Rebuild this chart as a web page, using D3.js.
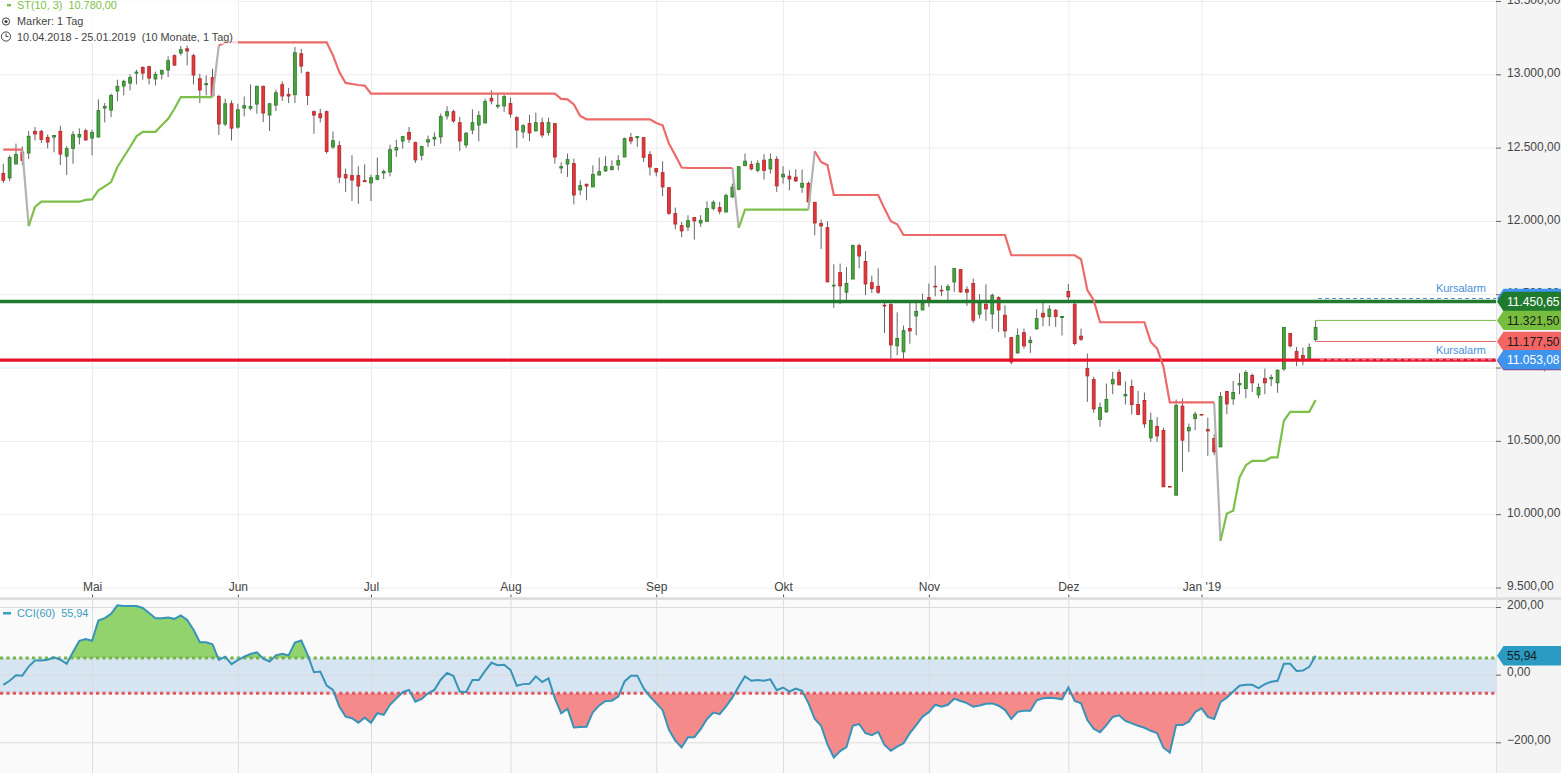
<!DOCTYPE html>
<html>
<head>
<meta charset="utf-8">
<script src="https://cdn.jsdelivr.net/npm/d3@7"></script>
<style>
  html, body { margin: 0; padding: 0; background: #fff; overflow: hidden; }
  svg { display: block; font-family: "Liberation Sans", Arial, sans-serif; }
</style>
</head>
<body>
<div class="container"></div>
<script>
// daily candles, 208 trading days
var opens = [
  12324,12293,12388,12470,12463,12611,12611,12570,12572,12611,
  12442,12495,12572,12615,12565,12572,12770,12756,12886,12920,
  12940,13008,13047,13052,12968,13002,13029,13127,13145,13174,
  13127,12970,12929,12977,12849,12661,12799,12640,12770,12768,
  12797,12918,12722,12790,12929,12863,12861,13140,13013,12745,
  12731,12745,12504,12513,12316,12309,12309,12275,12259,12284,
  12327,12334,12484,12545,12604,12534,12448,12538,12559,12573,
  12716,12745,12670,12518,12620,12654,12668,12836,12782,12784,
  12800,12704,12607,12664,12614,12670,12604,12664,12361,12388,
  12391,12211,12250,12232,12313,12341,12350,12382,12436,12568,
  12568,12568,12452,12357,12329,12227,12050,11968,11959,12023,
  11986,11998,12086,12091,12061,12164,12216,12377,12384,12345,
  12414,12355,12420,12300,12305,12298,12230,12255,12127,11982,
  11954,11557,11648,11514,11604,11832,11723,11579,11554,11425,
  11429,11148,11107,11266,11352,11393,11477,11554,11527,11529,
  11584,11668,11532,11573,11364,11432,11366,11477,11357,11204,
  11100,11238,11170,11264,11370,11348,11391,11341,11519,11432,
  11214,10993,10918,10646,10698,10889,10966,10807,10871,10748,
  10775,10521,10598,10571,10189,10130,10737,10568,10652,10680,
  10577,10516,10459,10837,10787,10882,10857,10946,10814,10925,
  10923,10896,10991,11232,11109,11082,11055,11191
];
var closes = [
  12277,12433,12454,12413,12577,12593,12556,12538,12583,12456,
  12493,12588,12590,12552,12604,12752,12781,12856,12918,12952,
  12979,13015,13008,12974,13000,13027,13093,13063,13168,13159,
  12995,12893,12936,12854,12661,12799,12633,12758,12786,12781,
  12918,12736,12799,12874,12852,12852,13147,13056,12856,12722,
  12704,12474,12547,12299,12293,12279,12238,12268,12295,12309,
  12338,12486,12500,12575,12557,12416,12507,12554,12570,12711,
  12745,12682,12545,12598,12670,12718,12814,12818,12789,12848,
  12729,12620,12650,12600,12670,12586,12670,12436,12370,12418,
  12177,12241,12238,12316,12336,12370,12370,12411,12561,12545,
  12575,12434,12368,12334,12232,12052,11979,11932,12002,12000,
  12004,12084,12127,12066,12173,12230,12370,12407,12355,12391,
  12345,12420,12239,12318,12286,12273,12257,12130,11986,11966,
  11584,11561,11557,11573,11832,11761,11570,11539,11514,11420,
  11154,11198,11252,11250,11382,11436,11459,11550,11523,11552,
  11675,11516,11514,11323,11441,11400,11493,11393,11250,11038,
  11218,11148,11186,11334,11345,11398,11348,11348,11482,11164,
  11193,10943,10718,10728,10782,10918,10882,10816,10748,10680,
  10616,10639,10534,10187,10185,10741,10505,10591,10682,10677,
  10568,10425,10802,10752,10830,10891,10966,10896,10864,10896,
  10932,10982,11273,11148,11050,11064,11137,11273
];
var highs = [
  12390,12447,12527,12508,12613,12640,12622,12590,12586,12649,
  12511,12613,12631,12629,12622,12829,12804,12868,12963,12963,
  13000,13031,13054,13058,13018,13031,13122,13136,13193,13197,
  13140,13004,12993,13038,12861,12833,12822,12799,12849,12931,
  12922,12922,12804,12895,12952,12908,13186,13174,13020,12754,
  12765,12754,12611,12545,12357,12448,12373,12386,12316,12432,
  12350,12520,12554,12577,12641,12541,12513,12582,12604,12732,
  12782,12759,12709,12607,12761,12750,12834,12891,12864,12859,
  12841,12714,12659,12723,12739,12704,12704,12664,12400,12459,
  12425,12277,12254,12379,12432,12441,12413,12448,12568,12600,
  12577,12568,12475,12357,12407,12227,12091,11993,12039,12027,
  12039,12134,12141,12130,12186,12255,12370,12459,12409,12414,
  12455,12459,12441,12373,12345,12352,12350,12270,12130,12009,
  11998,11704,11709,11686,11839,11845,11793,11627,11677,11448,
  11448,11377,11286,11443,11448,11504,11573,11695,11561,11568,
  11675,11670,11554,11607,11500,11568,11504,11486,11425,11209,
  11266,11266,11214,11398,11441,11425,11398,11348,11569,11441,
  11266,11096,10937,10762,10891,10971,10987,10905,10918,10841,
  10830,10693,10662,10591,10189,10782,10789,10618,10698,10680,
  10659,10546,10834,10841,10909,10962,10982,10959,10891,10993,
  10952,10987,11273,11232,11141,11137,11164,11321.5
];
var lows = [
  12258,12272,12388,12379,12422,12549,12531,12495,12468,12381,
  12313,12390,12522,12549,12447,12572,12672,12708,12817,12856,
  12890,12931,12963,12931,12924,12965,12981,13056,13129,13061,
  12931,12804,12856,12845,12586,12647,12549,12629,12713,12754,
  12731,12674,12613,12749,12818,12804,12804,13008,12790,12595,
  12672,12458,12492,12258,12198,12136,12116,12266,12136,12277,
  12286,12304,12436,12493,12532,12395,12413,12504,12511,12527,
  12691,12668,12477,12498,12591,12543,12668,12795,12766,12743,
  12704,12498,12563,12543,12611,12568,12582,12391,12323,12300,
  12113,12175,12141,12232,12311,12334,12345,12345,12436,12523,
  12504,12402,12311,12304,12168,12041,11943,11889,11932,11873,
  11959,11993,12073,12045,12059,12157,12209,12373,12345,12332,
  12282,12323,12198,12255,12209,12266,12191,12118,11902,11809,
  11584,11407,11432,11459,11602,11677,11493,11509,11502,11236,
  11061,11084,11061,11163,11220,11391,11414,11486,11486,11459,
  11516,11509,11420,11304,11334,11318,11264,11243,11204,11023,
  11095,11129,11100,11259,11282,11282,11277,11218,11459,11150,
  11182,10766,10691,10596,10691,10818,10880,10748,10680,10675,
  10589,10493,10493,10187,10185,10125,10289,10425,10573,10677,
  10398,10402,10459,10682,10746,10818,10791,10834,10791,10818,
  10873,10828,10978,11137,11009,11016,11050,11177.5
];

// supertrend, upper (red) and lower (green) stretches
var _ = null;
var stUpper = [
  12486,12486,12486,12486,_,_,_,_,_,_,
  _,_,_,_,_,_,_,_,_,_,
  _,_,_,_,_,_,_,_,_,_,
  _,_,_,_,13197,13218,13218,13218,13218,13218,
  13218,13218,13218,13218,13218,13218,13218,13218,13218,13218,
  13218,13218,13129,13015,12941,12934,12927,12923,12868,12868,
  12868,12868,12868,12868,12868,12868,12868,12868,12868,12868,
  12868,12868,12868,12868,12868,12868,12868,12868,12868,12868,
  12868,12868,12868,12868,12868,12868,12868,12868,12832,12829,
  12795,12716,12693,12693,12693,12693,12693,12693,12693,12693,
  12693,12693,12693,12668,12652,12527,12448,12364,12361,12361,
  12361,12361,12361,12361,12361,12361,_,_,_,_,
  _,_,_,_,_,_,_,_,12475,12402,
  12382,12177,12177,12177,12177,12177,12177,12177,12177,12084,
  11998,11977,11904,11904,11904,11904,11904,11904,11904,11904,
  11904,11904,11904,11904,11904,11904,11904,11904,11904,11766,
  11766,11766,11766,11766,11766,11766,11766,11766,11766,11766,
  11739,11528,11459,11309,11309,11309,11309,11309,11309,11309,
  11309,11175,11130,11005,10762,10762,10762,10762,10762,10762,
  10762,10762,_,_,_,_,_,_,_,_,
  _,_,_,_,_,_,_,_
];
var stLower = [
  _,_,_,_,11965,12095,12131,12131,12131,12131,
  12131,12131,12131,12143,12147,12208,12236,12265,12368,12436,
  12504,12577,12608,12608,12608,12652,12697,12765,12845,12845,
  12845,12845,12845,12845,_,_,_,_,_,_,
  _,_,_,_,_,_,_,_,_,_,
  _,_,_,_,_,_,_,_,_,_,
  _,_,_,_,_,_,_,_,_,_,
  _,_,_,_,_,_,_,_,_,_,
  _,_,_,_,_,_,_,_,_,_,
  _,_,_,_,_,_,_,_,_,_,
  _,_,_,_,_,_,_,_,_,_,
  _,_,_,_,_,_,11952,12077,12077,12077,
  12077,12077,12077,12077,12077,12077,12077,12077,_,_,
  _,_,_,_,_,_,_,_,_,_,
  _,_,_,_,_,_,_,_,_,_,
  _,_,_,_,_,_,_,_,_,_,
  _,_,_,_,_,_,_,_,_,_,
  _,_,_,_,_,_,_,_,_,_,
  _,_,_,_,_,_,_,_,_,_,
  _,_,9818,10005,10023,10250,10334,10364,10364,10364,
  10387,10387,10637,10698,10698,10698,10698,10778
];

var cciValues = [
  -30,-18,-2,-3,24,42,42,44,51,44,
  32,67,100,105,100,160,167,180,205,203,
  203,203,197,182,167,167,169,165,175,162,
  133,96,96,90,44,53,31,43,53,61,
  66,47,39,57,62,57,95,101,59,7,
  9,-32,-45,-94,-124,-129,-142,-127,-142,-114,
  -119,-89,-70,-52,-45,-80,-72,-55,-45,-15,
  5,-4,-50,-52,-16,-16,11,35,28,29,
  14,-33,-28,-27,-5,-22,-11,-70,-114,-101,
  -156,-155,-154,-111,-91,-78,-77,-65,-20,-3,
  -3,-40,-65,-84,-105,-163,-195,-215,-185,-185,
  -161,-131,-112,-117,-94,-68,-35,-5,-18,-16,
  -18,-14,-46,-38,-50,-41,-48,-84,-131,-151,
  -206,-245,-226,-214,-151,-146,-173,-179,-169,-208,
  -225,-213,-203,-173,-149,-124,-111,-89,-95,-89,
  -71,-78,-84,-95,-91,-86,-85,-92,-104,-131,
  -110,-107,-107,-76,-70,-68,-70,-73,-38,-78,
  -85,-134,-160,-170,-149,-125,-120,-137,-144,-151,
  -157,-166,-173,-216,-230,-149,-149,-139,-111,-99,
  -125,-131,-81,-68,-50,-33,-30,-30,-40,-28,
  -21,-18,32,32,11,12,23,56
];
var cciUpper = 49;
var cciLower = -55;

var monthLabels = ["Mai","Jun","Jul","Aug","Sep","Okt","Nov","Dez","Jan '19"];
var monthBars = [14,37,58,80,103,123,146,168,189];
var priceTicks = [13500,13000,12500,12000,11500,11000,10500,10000,9500];
var cciTicks = [200,0,-200];

// right hand price tags, some sit half hidden behind the next one
var tagValues = [11471,11450.65,11321.5,11177.5,11047,11053.08];
var tagColors = ["#3f95ee","#1f7a2e","#77bd3e","#f46464","#9c2c63","#3f95ee"];
var tagText = ["","#fff","#1a1a1a","#1a1a1a","","#fff"];

var W = 1561, H = 773, plotR = 1496;
var numFmt = d3.formatLocale({decimal: ",", thousands: ".", grouping: [3], currency: ["", ""]}).format(",.2f");

var svg = d3.select(".container").append("svg").attr("width", W).attr("height", H);

var x = d3.scaleLinear().domain([0, opens.length - 1]).range([3.3, 1315.6]);
var y = d3.scaleLinear().domain([9500, 13000]).range([587.5, 74.3]);
var yC = d3.scaleLinear().domain([-200, 200]).range([742.3, 607]);

// backgrounds
svg.append("rect").attr("x", 0).attr("y", 0).attr("width", W).attr("height", H).attr("fill", "#fff");
svg.append("rect").attr("x", 0).attr("y", 600).attr("width", plotR).attr("height", H - 600).attr("fill", "#fafafa");
svg.append("rect").attr("x", plotR).attr("y", 0).attr("width", W - plotR).attr("height", H).attr("fill", "#f4f4f4");
svg.append("rect").attr("x", 0).attr("y", yC(cciUpper)).attr("width", plotR)
  .attr("height", yC(cciLower) - yC(cciUpper)).attr("fill", "#d7e4f1");

function gridStyle(g, color) {
  g.select(".domain").remove();
  g.selectAll("line").attr("stroke", color);
  g.selectAll("text").remove();
}

// price grid
svg.append("g").call(d3.axisRight(y).tickValues(priceTicks).tickSize(plotR)).call(gridStyle, "#ececec");
svg.append("g").attr("transform", "translate(0,578)")
  .call(d3.axisBottom(x).tickValues(monthBars).tickSize(-578)).call(gridStyle, "#ececec");

// month labels and little tick marks
var monthAxis = svg.append("g").attr("transform", "translate(0,590.5)")
  .call(d3.axisTop(x).tickValues(monthBars).tickSize(0).tickPadding(0)
    .tickFormat(function (d, i) { return monthLabels[i]; }));
monthAxis.select(".domain").remove();
monthAxis.selectAll("text").attr("font-size", 12).attr("fill", "#444").attr("font-family", "Liberation Sans");
svg.append("g").attr("transform", "translate(0,594.5)")
  .call(d3.axisBottom(x).tickValues(monthBars).tickSize(3)).call(gridStyle, "#555");

// candles
var bars = svg.append("g").selectAll("g").data(opens).enter().append("g");
bars.append("line")
  .attr("x1", function (d, i) { return x(i); })
  .attr("x2", function (d, i) { return x(i); })
  .attr("y1", function (d, i) { return y(highs[i]); })
  .attr("y2", function (d, i) { return y(lows[i]); })
  .attr("stroke", "#666").attr("stroke-width", 1);
bars.append("rect")
  .attr("x", function (d, i) { return x(i) - 1.4; })
  .attr("width", 2.8)
  .attr("y", function (d, i) { return y(Math.max(d, closes[i])); })
  .attr("height", function (d, i) { return Math.max(0.6, Math.abs(y(d) - y(closes[i]))); })
  .attr("fill", function (d, i) { return closes[i] >= d ? "#4da53b" : "#e5383b"; })
  .attr("stroke", function (d, i) { return closes[i] >= d ? "#2f7d2f" : "#b32a2d"; })
  .attr("stroke-width", 0.9);

// alarm levels
svg.append("line").attr("x1", 0).attr("x2", plotR).attr("y1", y(11450.65)).attr("y2", y(11450.65))
  .attr("stroke", "#1f7a2e").attr("stroke-width", 3.3);
svg.append("line").attr("x1", 0).attr("x2", plotR).attr("y1", y(11053.08) + 0.4).attr("y2", y(11053.08) + 0.4)
  .attr("stroke", "#e8112d").attr("stroke-width", 3.3);
svg.append("line").attr("x1", 1318).attr("x2", plotR).attr("y1", y(11471)).attr("y2", y(11471))
  .attr("stroke", "#5a8fd0").attr("stroke-width", 1).attr("stroke-dasharray", "4,3");
svg.append("line").attr("x1", 1320).attr("x2", plotR).attr("y1", y(11053.08)).attr("y2", y(11053.08))
  .attr("stroke", "#f7a0a8").attr("stroke-width", 1).attr("stroke-dasharray", "4,3");

// last bar high and low lines run out to the axis
var last = opens.length - 1;
svg.append("line").attr("x1", x(last)).attr("x2", plotR).attr("y1", y(highs[last])).attr("y2", y(highs[last]))
  .attr("stroke", "#7abf4a").attr("stroke-width", 1);
svg.append("line").attr("x1", x(last)).attr("x2", plotR).attr("y1", y(lows[last])).attr("y2", y(lows[last]))
  .attr("stroke", "#e86a6a").attr("stroke-width", 1);

// supertrend
function stLine(values) {
  return d3.line().defined(function (d) { return d != null; })
    .x(function (d, i) { return x(i); }).y(function (d) { return y(d); })(values);
}
var stFlips = [];
stUpper.forEach(function (d, i) {
  if (i == last) return;
  if (d != null && stLower[i + 1] != null) stFlips.push([i, d, stLower[i + 1]]);
  if (stLower[i] != null && stUpper[i + 1] != null) stFlips.push([i, stLower[i], stUpper[i + 1]]);
});
svg.append("g").selectAll("line").data(stFlips).enter().append("line")
  .attr("x1", function (d) { return x(d[0]); }).attr("x2", function (d) { return x(d[0] + 1); })
  .attr("y1", function (d) { return y(d[1]); }).attr("y2", function (d) { return y(d[2]); })
  .attr("stroke", "#b3b3b3").attr("stroke-width", 2.2);
svg.append("path").attr("d", stLine(stUpper)).attr("fill", "none").attr("stroke", "#ec6a6a").attr("stroke-width", 2.2);
svg.append("path").attr("d", stLine(stLower)).attr("fill", "none").attr("stroke", "#7cc04a").attr("stroke-width", 2.2);

// legend sits on a washed out box
svg.append("rect").attr("x", 0).attr("y", 0).attr("width", 238).attr("height", 44).attr("fill", "#fff").attr("opacity", 0.72);
svg.append("rect").attr("x", 7).attr("y", 4).attr("width", 4).attr("height", 2.4).attr("fill", "#7cc04a");
svg.append("text").attr("x", 17).attr("y", 9).attr("font-size", 10.9).attr("fill", "#7cc04a").attr("xml:space", "preserve").text("ST(10, 3)  10.780,00");
svg.append("circle").attr("cx", 6).attr("cy", 21.5).attr("r", 3.6).attr("fill", "none").attr("stroke", "#444");
svg.append("circle").attr("cx", 6).attr("cy", 21.5).attr("r", 1.6).attr("fill", "#444");
svg.append("text").attr("x", 17).attr("y", 25).attr("font-size", 10.9).attr("fill", "#444").text("Marker: 1 Tag");
svg.append("circle").attr("cx", 6).attr("cy", 36.5).attr("r", 4.6).attr("fill", "none").attr("stroke", "#444");
svg.append("path").attr("d", "M6,33.5V36.5H8.5").attr("fill", "none").attr("stroke", "#444");
svg.append("text").attr("x", 17).attr("y", 41).attr("font-size", 10.9).attr("fill", "#444").attr("xml:space", "preserve").text("10.04.2018 - 25.01.2019  (10 Monate, 1 Tag)");

svg.append("g").selectAll("text").data([11471, 11053.08]).enter().append("text")
  .attr("x", 1486).attr("y", function (d) { return y(d) - 6; }).attr("text-anchor", "end")
  .attr("font-size", 11).attr("fill", "#4a90d9").text("Kursalarm");

// splitter between the panels
svg.append("rect").attr("x", 0).attr("y", 597.3).attr("width", W).attr("height", 2.6).attr("fill", "#dcdcdc");
svg.append("line").attr("x1", plotR + 0.5).attr("x2", plotR + 0.5).attr("y1", 0).attr("y2", H).attr("stroke", "#e2e2e2");

// price axis
var priceAxis = svg.append("g").attr("transform", "translate(" + plotR + ",0)")
  .call(d3.axisRight(y).tickValues(priceTicks).tickSize(5).tickPadding(6).tickFormat(numFmt));
priceAxis.select(".domain").remove();
priceAxis.selectAll("line").attr("stroke", "#666");
priceAxis.selectAll("text").attr("font-size", 12).attr("fill", "#444").attr("font-family", "Liberation Sans").attr("dy", "0.2em");

// price tags on the axis
var tagPath = function (cy) {
  return "M1497," + cy + "L1503.5," + (cy - 9.7) + "H1561V" + (cy + 9.7) + "H1503.5Z";
};
var tags = svg.append("g").selectAll("g").data(tagValues).enter().append("g");
tags.append("path").attr("d", function (d) { return tagPath(y(d)); })
  .attr("fill", function (d, i) { return tagColors[i]; });
tags.append("text").attr("x", 1507).attr("y", function (d) { return y(d) + 4.3; })
  .attr("font-size", 12).attr("fill", function (d, i) { return tagText[i]; })
  .text(function (d, i) { return tagText[i] ? numFmt(d) : ""; });

// CCI panel
svg.append("g").call(d3.axisRight(yC).tickValues(cciTicks).tickSize(plotR)).call(gridStyle, "#dcdcdc");
svg.append("g").attr("transform", "translate(0,773)")
  .call(d3.axisBottom(x).tickValues(monthBars).tickSize(-173)).call(gridStyle, "#dcdcdc");

var defs = svg.append("defs");
defs.append("clipPath").attr("id", "overClip").append("rect")
  .attr("x", 0).attr("y", 600).attr("width", plotR).attr("height", yC(cciUpper) - 600);
defs.append("clipPath").attr("id", "underClip").append("rect")
  .attr("x", 0).attr("y", yC(cciLower)).attr("width", plotR).attr("height", H - yC(cciLower));

function cciArea(level) {
  return d3.area().x(function (d, i) { return x(i); }).y0(yC(level)).y1(function (d) { return yC(d); })(cciValues);
}
svg.append("path").attr("d", cciArea(cciUpper)).attr("fill", "#92d36e").attr("clip-path", "url(#overClip)");
svg.append("path").attr("d", cciArea(cciLower)).attr("fill", "#f58a8a").attr("clip-path", "url(#underClip)");

svg.append("line").attr("x1", 0).attr("x2", plotR).attr("y1", yC(cciUpper)).attr("y2", yC(cciUpper))
  .attr("stroke", "#76b648").attr("stroke-width", 3).attr("stroke-dasharray", "3.2,3.2");
svg.append("line").attr("x1", 0).attr("x2", plotR).attr("y1", yC(cciLower)).attr("y2", yC(cciLower))
  .attr("stroke", "#de5a60").attr("stroke-width", 3).attr("stroke-dasharray", "3.2,3.2");

svg.append("path")
  .attr("d", d3.line().x(function (d, i) { return x(i); }).y(function (d) { return yC(d); })(cciValues))
  .attr("fill", "none").attr("stroke", "#3794b8").attr("stroke-width", 2);

svg.append("rect").attr("x", 3).attr("y", 612).attr("width", 8).attr("height", 2.5).attr("fill", "#3a9ec0");
svg.append("text").attr("x", 17).attr("y", 617).attr("font-size", 10.9).attr("fill", "#3a9ec0").attr("xml:space", "preserve").text("CCI(60)  55,94");

var cciAxis = svg.append("g").attr("transform", "translate(" + plotR + ",0)")
  .call(d3.axisRight(yC).tickValues(cciTicks).tickSize(5).tickPadding(6).tickFormat(numFmt));
cciAxis.select(".domain").remove();
cciAxis.selectAll("line").attr("stroke", "#666");
cciAxis.selectAll("text").attr("font-size", 12).attr("fill", "#444").attr("font-family", "Liberation Sans").attr("dy", "0.1em");

svg.append("path").attr("d", tagPath(yC(55.94)))
  .attr("fill", "#2a9cc4");
svg.append("text").attr("x", 1507).attr("y", yC(55.94) + 4.3).attr("font-size", 12).attr("fill", "#1a1a1a").text(numFmt(55.94));
</script>
</body>
</html>
